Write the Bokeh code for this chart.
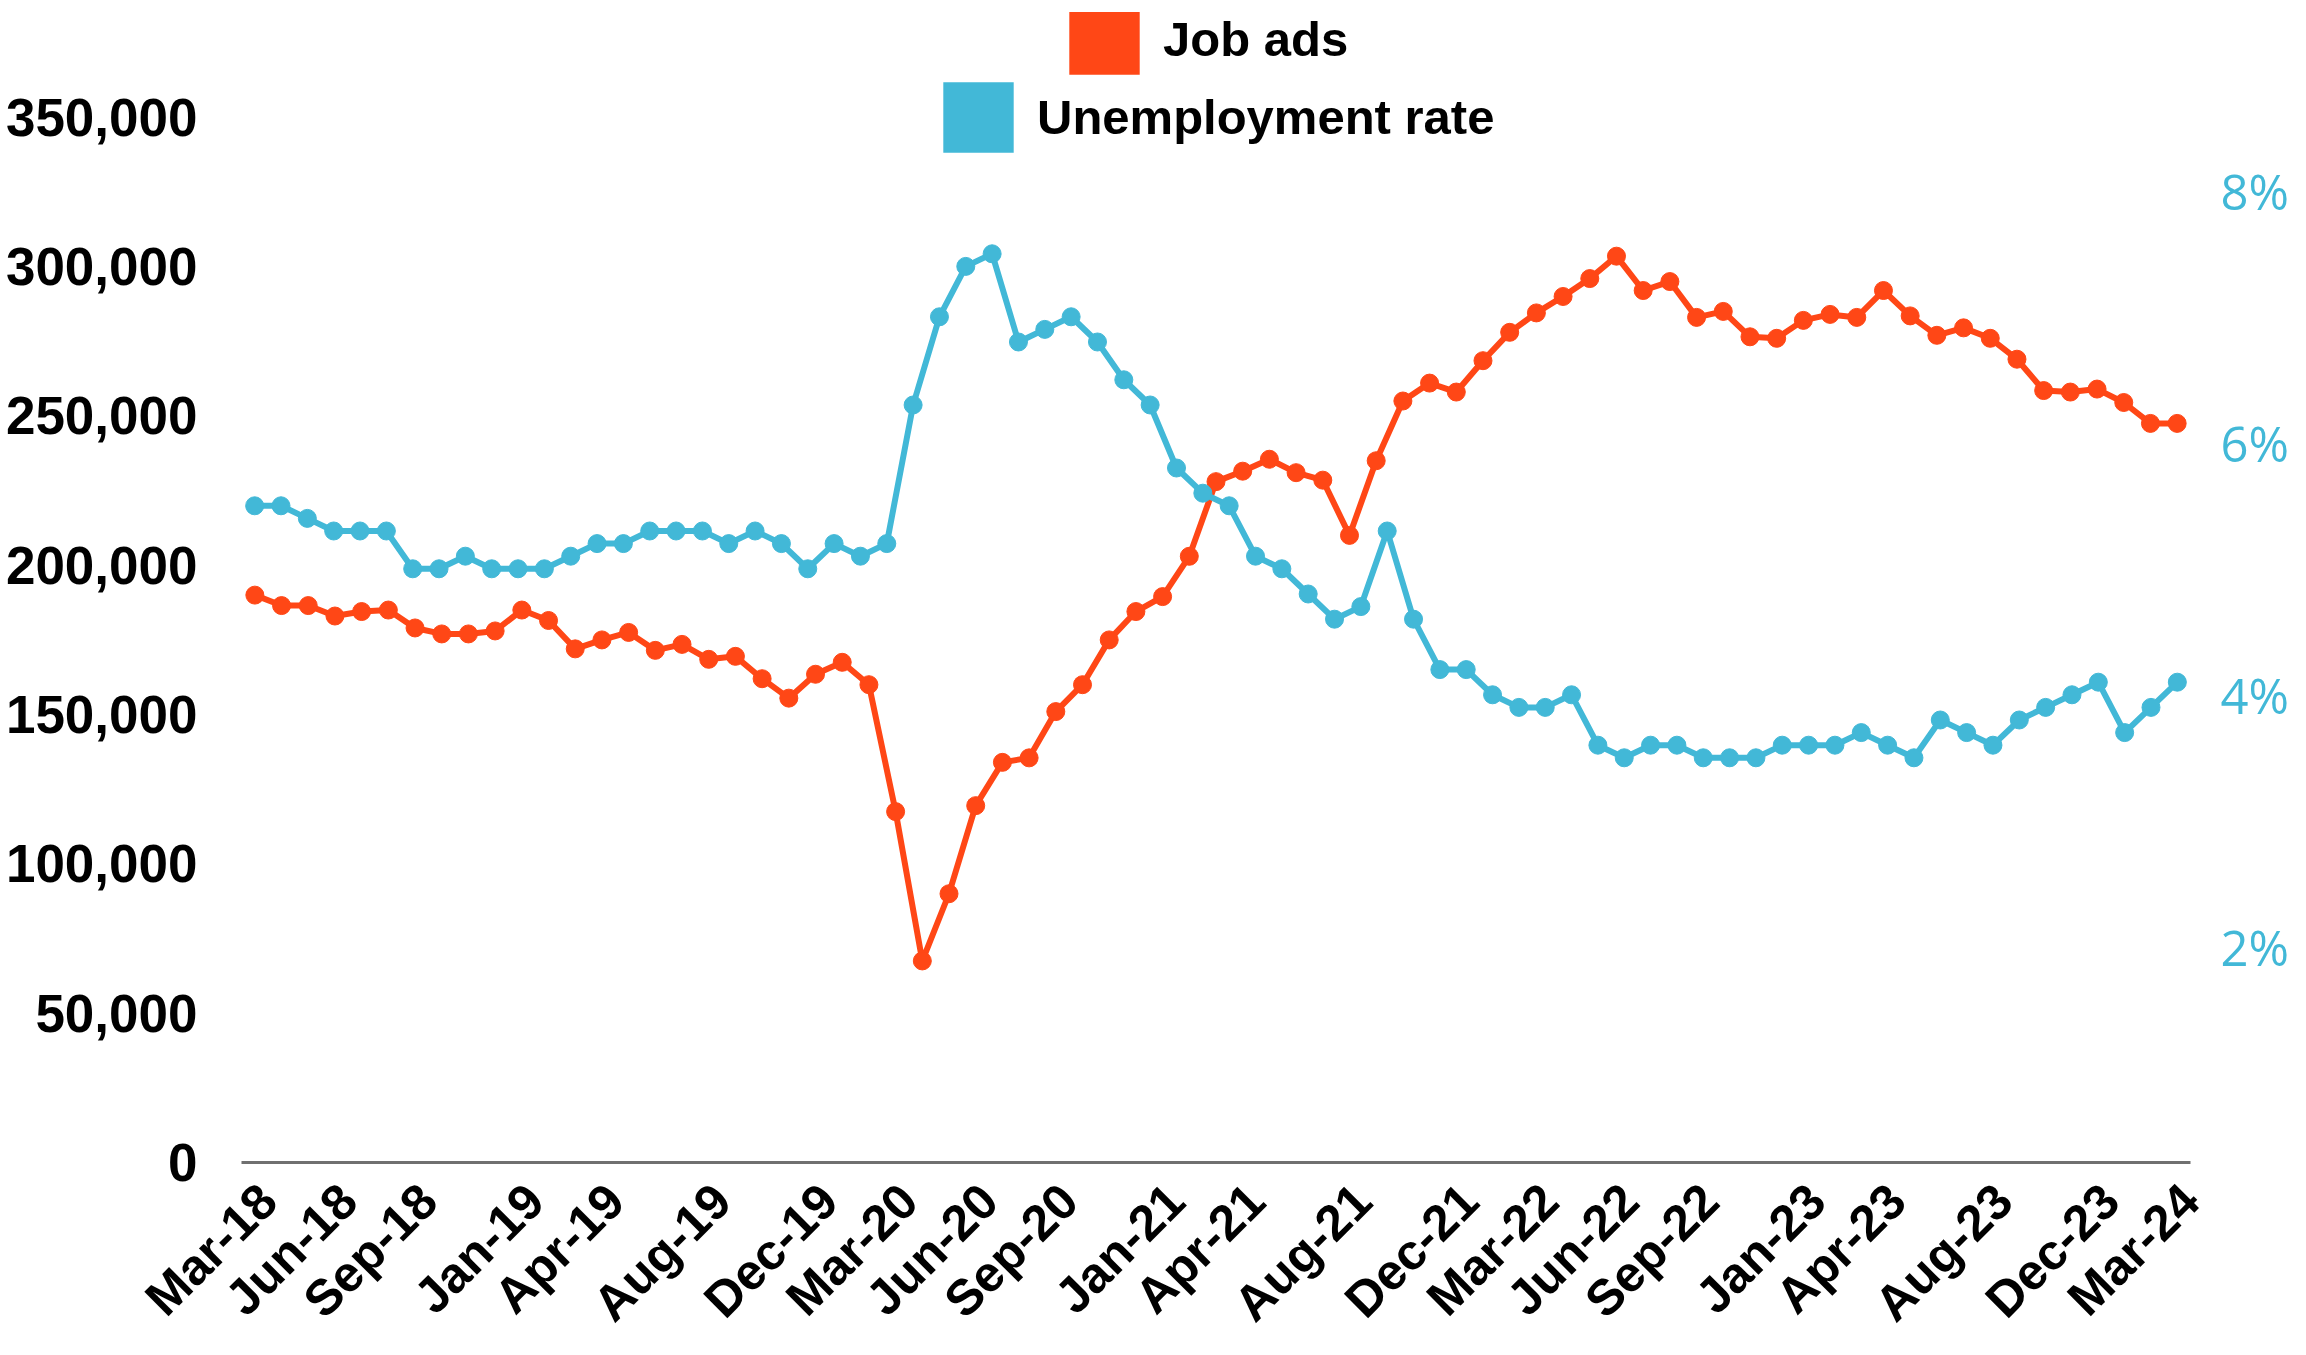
import math
from bokeh.plotting import figure
from bokeh.models import (Range1d, LinearAxis, FixedTicker, NumeralTickFormatter,
                          Legend, LegendItem, ColumnDataSource)
from bokeh.embed import file_html
from bokeh.resources import INLINE

# ---------------- data ----------------
month_names = ["Jan", "Feb", "Mar", "Apr", "May", "Jun",
               "Jul", "Aug", "Sep", "Oct", "Nov", "Dec"]
# Job ads: Mar-18 .. Mar-24 (73 months)
job_ads = [190000, 186500, 186500, 183000, 184500, 185000, 179000, 177000, 177000, 178000,
           185000, 181500, 172000, 175000, 177500, 171500, 173500, 168500, 169500, 162000,
           155500, 163500, 167500, 160000, 117500, 67500, 90000, 119500, 134000, 135500,
           151000, 160000, 175000, 184500, 189500, 203000, 228000, 231500, 235500, 231000,
           228500, 210000, 235000, 255000, 261000, 258000, 268500, 278000, 284500, 290000,
           296000, 303500, 292000, 295000, 283000, 285000, 276500, 276000, 282000, 284000,
           283000, 292000, 283500, 277000, 279500, 276000, 269000, 258500, 258000, 259000,
           254500, 247500, 247500]
# Unemployment rate (%): Mar-18 .. Apr-24 (74 months)
unemployment = [5.5, 5.5, 5.4, 5.3, 5.3, 5.3, 5.0, 5.0, 5.1, 5.0,
                5.0, 5.0, 5.1, 5.2, 5.2, 5.3, 5.3, 5.3, 5.2, 5.3,
                5.2, 5.0, 5.2, 5.1, 5.2, 6.3, 7.0, 7.4, 7.5, 6.8,
                6.9, 7.0, 6.8, 6.5, 6.3, 5.8, 5.6, 5.5, 5.1, 5.0,
                4.8, 4.6, 4.7, 5.3, 4.6, 4.2, 4.2, 4.0, 3.9, 3.9,
                4.0, 3.6, 3.5, 3.6, 3.6, 3.5, 3.5, 3.5, 3.6, 3.6,
                3.6, 3.7, 3.6, 3.5, 3.8, 3.7, 3.6, 3.8, 3.9, 4.0,
                4.1, 3.7, 3.9, 4.1]
tick_labels = ["Mar-18", "Jun-18", "Sep-18", "Jan-19", "Apr-19", "Aug-19", "Dec-19",
               "Mar-20", "Jun-20", "Sep-20", "Jan-21", "Apr-21", "Aug-21", "Dec-21",
               "Mar-22", "Jun-22", "Sep-22", "Jan-23", "Apr-23", "Aug-23", "Dec-23", "Mar-24"]
left_ticks = [0, 50000, 100000, 150000, 200000, 250000, 300000, 350000]
right_ticks = [2, 4, 6, 8]

months_ads = [f"{month_names[(2 + i) % 12]}-{18 + (2 + i) // 12}" for i in range(len(job_ads))]
months_ur = [f"{month_names[(2 + i) % 12]}-{18 + (2 + i) // 12}" for i in range(len(unemployment))]

ORANGE = "#FF4716"
BLUE = "#42B8D7"
BOLD_FONT = "Liberation Sans"

src_ads = ColumnDataSource(dict(x=list(range(len(job_ads))), y=job_ads, m=months_ads))
src_ur = ColumnDataSource(dict(x=list(range(len(unemployment))), y=unemployment, m=months_ur))

n_ads = len(job_ads)
p = figure(width=2306, height=1355,
           x_range=Range1d(-0.5, n_ads - 0.5),
           y_range=Range1d(0, 385100),
           min_border_left=241, min_border_right=116,
           min_border_top=12, min_border_bottom=193,
           output_backend="svg", toolbar_location=None,
           x_axis_type=None, y_axis_type=None)
p.outline_line_color = None
p.background_fill_color = "white"
p.border_fill_color = "white"

# the slanted month labels sit half a month to the right of their point
LABEL_SHIFT = 0.5
p.extra_x_ranges = {"ur_x": Range1d(-0.5, len(unemployment) - 0.5),
                    "lab": Range1d(-0.5 - LABEL_SHIFT, n_ads - 0.5 - LABEL_SHIFT)}
p.extra_y_ranges = {"pct": Range1d(0.288, 9.415)}

# baseline
xbase = LinearAxis(ticker=FixedTicker(ticks=[]))
xbase.major_tick_out = 0
xbase.major_tick_in = 0
xbase.minor_tick_out = 0
xbase.minor_tick_in = 0
xbase.axis_line_color = "#707070"
xbase.axis_line_width = 3
p.add_layout(xbase, "below")

# month labels
tick_pos = [months_ads.index(t) for t in tick_labels]
xaxis = LinearAxis(x_range_name="lab", ticker=FixedTicker(ticks=tick_pos),
                   major_label_overrides=dict(zip(tick_pos, tick_labels)))
xaxis.major_label_orientation = math.pi / 4
xaxis.major_tick_out = 0
xaxis.major_tick_in = 0
xaxis.minor_tick_out = 0
xaxis.minor_tick_in = 0
xaxis.axis_line_color = None
xaxis.major_label_text_font = BOLD_FONT
xaxis.major_label_text_font_style = "bold"
xaxis.major_label_text_font_size = "50px"
xaxis.major_label_text_color = "black"
xaxis.major_label_standoff = 30
p.add_layout(xaxis, "below")

yaxis = LinearAxis(ticker=FixedTicker(ticks=left_ticks),
                   formatter=NumeralTickFormatter(format="0,0"))
yaxis.axis_line_color = None
yaxis.major_tick_out = 0
yaxis.major_tick_in = 0
yaxis.minor_tick_out = 0
yaxis.minor_tick_in = 0
yaxis.major_label_text_font = BOLD_FONT
yaxis.major_label_text_font_style = "bold"
yaxis.major_label_text_font_size = "53px"
yaxis.major_label_text_color = "black"
yaxis.major_label_standoff = 44
p.add_layout(yaxis, "left")

raxis = LinearAxis(y_range_name="pct", ticker=FixedTicker(ticks=right_ticks),
                   major_label_overrides={t: f"{t}%" for t in right_ticks})
raxis.axis_line_color = None
raxis.major_tick_out = 0
raxis.major_tick_in = 0
raxis.minor_tick_out = 0
raxis.minor_tick_in = 0
raxis.major_label_text_font = "Open Sans"
raxis.major_label_text_font_size = "49px"
raxis.major_label_text_color = BLUE
raxis.major_label_standoff = 30
p.add_layout(raxis, "right")

p.ygrid.ticker = FixedTicker(ticks=left_ticks)
p.ygrid.grid_line_color = "#C4C4C4"
p.ygrid.grid_line_width = 2
p.xgrid.grid_line_color = None

# series
p.line("x", "y", source=src_ads, color=ORANGE, line_width=6)
p.scatter("x", "y", source=src_ads, size=18, color=ORANGE)
p.line("x", "y", source=src_ur, x_range_name="ur_x", y_range_name="pct",
       color=BLUE, line_width=6)
p.scatter("x", "y", source=src_ur, x_range_name="ur_x", y_range_name="pct",
          size=18, color=BLUE)

# legend swatches (hidden renderers, only shown in the legend)
sw_ads = p.quad(left=[0], right=[0], top=[0], bottom=[0], fill_color=ORANGE, line_color=None)
sw_ur = p.quad(left=[0], right=[0], top=[0], bottom=[0], fill_color=BLUE, line_color=None)
sw_ads.visible = False
sw_ur.visible = False

def make_legend(label, rend, loc):
    lg = Legend(items=[LegendItem(label=label, renderers=[rend])], location=loc,
                orientation="vertical")
    lg.glyph_width = 88
    lg.glyph_height = 88
    lg.label_standoff = 15
    lg.padding = 0
    lg.margin = 0
    lg.spacing = 0
    lg.border_line_color = None
    lg.background_fill_alpha = 0
    lg.inactive_fill_alpha = 0
    lg.label_text_font = BOLD_FONT
    lg.label_text_font_style = "bold"
    lg.label_text_font_size = "49px"
    lg.label_text_color = "black"
    return lg

p.add_layout(make_legend("Job ads", sw_ads, (819, 1079)), "center")
p.add_layout(make_legend("Unemployment rate", sw_ur, (693, 1001)), "center")

open("out.html", "w").write(file_html(p, INLINE))
